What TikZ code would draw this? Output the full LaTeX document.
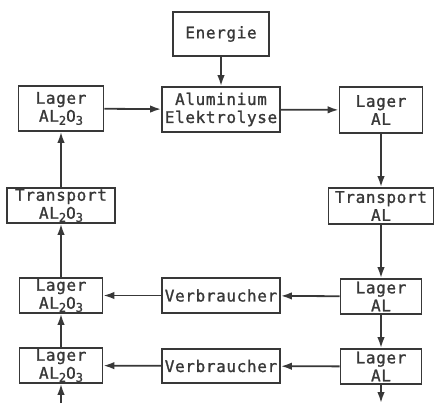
\documentclass[tikz,border=0pt]{standalone}
\usepackage{fontspec}
\newfontfamily\monof[LetterSpace=4,FakeBold=1.2]{DejaVu Sans Mono}
\usetikzlibrary{arrows.meta}
\definecolor{ink}{HTML}{383838}
\newcommand{\sbs}[1]{\raisebox{-0.35ex}{\fontsize{12}{12}\selectfont #1}}
\tikzset{
  box/.style={draw=ink, line width=1.8pt, text=ink, inner sep=0pt, align=center,
    font=\monof\fontsize{16}{18}\selectfont},
  arr/.style={draw=ink, line width=1.8pt, -{Latex[length=11pt,width=7.5pt]}}
}
\begin{document}
\begin{tikzpicture}[x=1pt,y=-1pt]
\useasboundingbox (0,0) rectangle (435,403);
\node[box, minimum width=96pt, minimum height=44pt] (en) at (221,34) {Energie};
\node[box, minimum width=118pt, minimum height=45pt] (alu) at (221,109.5) {Aluminium\\Elektrolyse};
\node[box, minimum width=85pt, minimum height=45pt] (l1) at (61,108.5) {Lager\\AL\sbs{2}O\sbs{3}};
\node[box, minimum width=83pt, minimum height=46pt] (r1) at (381,110) {Lager\\AL};
\node[box, minimum width=108pt, minimum height=35pt] (t1) at (61,205.5) {Transport\\AL\sbs{2}O\sbs{3}};
\node[box, minimum width=105pt, minimum height=36pt] (tr) at (381,206) {Transport\\AL};
\node[box, minimum width=83pt, minimum height=35pt] (l2) at (61,295.5) {Lager\\AL\sbs{2}O\sbs{3}};
\node[box, minimum width=118pt, minimum height=35pt] (v2) at (221,295.5) {Verbraucher};
\node[box, minimum width=81pt, minimum height=35pt] (r2) at (381,296.5) {Lager\\AL};
\node[box, minimum width=83pt, minimum height=35pt] (l3) at (61,365.5) {Lager\\AL\sbs{2}O\sbs{3}};
\node[box, minimum width=118pt, minimum height=34pt] (v3) at (221,366) {Verbraucher};
\node[box, minimum width=81pt, minimum height=35pt] (r3) at (381,366.5) {Lager\\AL};
\coordinate (inL) at (61,403);
\coordinate (outR) at (381,403);
\draw[arr] (en) -- (alu);
\draw[arr] (l1) -- (alu);
\draw[arr] (alu) -- (r1);
\draw[arr] (r1) -- (tr);
\draw[arr] (tr) -- (r2);
\draw[arr] (r2) -- (r3);
\draw[arr] (r3) -- (outR);
\draw[arr] (r2) -- (v2);
\draw[arr] (v2) -- (l2);
\draw[arr] (r3) -- (v3);
\draw[arr] (v3) -- (l3);
\draw[arr] (inL) -- (l3);
\draw[arr] (l3) -- (l2);
\draw[arr] (l2) -- (t1);
\draw[arr] (t1) -- (l1);
\end{tikzpicture}
\end{document}
